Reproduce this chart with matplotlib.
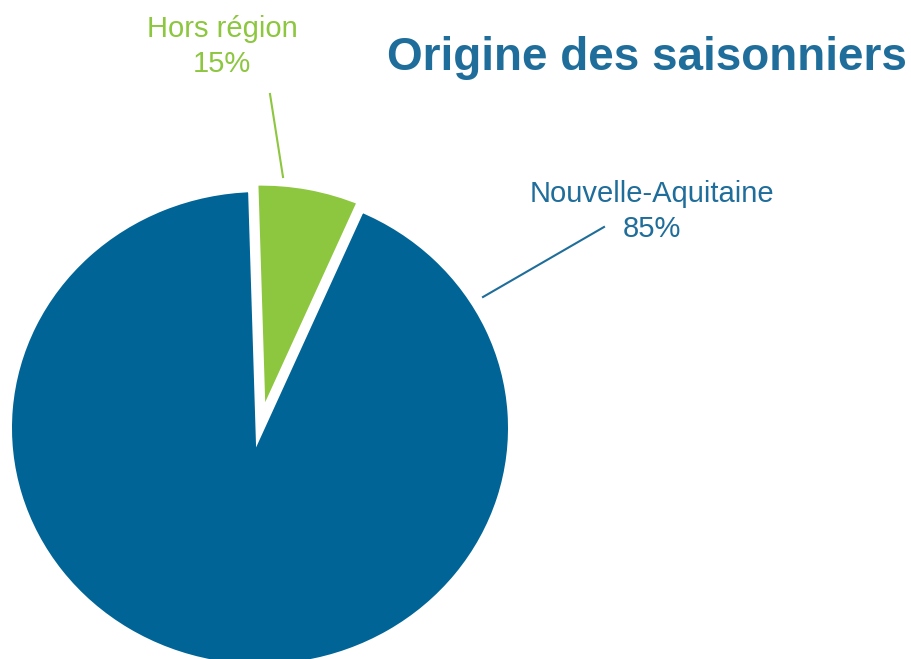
import matplotlib.pyplot as plt

# --- Data ---
labels = ["Hors région", "Nouvelle-Aquitaine"]
shares = [15, 85]             # printed percentages
drawn = [7.0, 93.0]           # slice sizes as drawn in the picture
colors = ["#8DC63F", "#006496"]
text_colors = ["#8DC63F", "#1F6D9A"]

plt.rcParams['font.family'] = ['Liberation Sans', 'DejaVu Sans']

W, H = 912, 659
SX = 1.05   # picture is slightly stretched horizontally

fig = plt.figure(figsize=(W / 100, H / 100), dpi=100)
ax = fig.add_axes([0, 0, 1, 1])


def px(x, y):
    # pixel position (from top-left) -> data coords
    return x / SX, H - y


cx, cy = px(260, 428)
ax.pie(drawn, colors=colors, startangle=91.7, counterclock=False,
       center=(cx, cy), radius=240.5, explode=[6.5, 0],
       wedgeprops=dict(edgecolor="white", linewidth=6.5))

ax.set_xlim(0, W / SX)
ax.set_ylim(0, H)
ax.set_aspect('auto')
ax.axis('off')

# --- Labels with leader lines ---
ax.text(*px(222, 36.7), labels[0], color=text_colors[0], fontsize=21,
        ha='center', va='baseline')
ax.text(*px(222, 71.7), f"{shares[0]}%", color=text_colors[0], fontsize=21,
        ha='center', va='baseline')
(x0, y0), (x1, y1) = px(270, 94), px(283, 177)
ax.plot([x0, x1], [y0, y1], color=colors[0], lw=1.5)

ax.text(*px(652, 201.7), labels[1], color=text_colors[1], fontsize=21,
        ha='center', va='baseline')
ax.text(*px(652, 236.7), f"{shares[1]}%", color=text_colors[1], fontsize=21,
        ha='center', va='baseline')
(x0, y0), (x1, y1) = px(604, 227), px(483, 297)
ax.plot([x0, x1], [y0, y1], color=text_colors[1], lw=1.5)

ax.text(*px(647, 70), "Origine des saisonniers", color="#1F6D9A",
        fontsize=33, fontweight='bold', ha='center', va='baseline')

fig.savefig("out.png", dpi=100)
